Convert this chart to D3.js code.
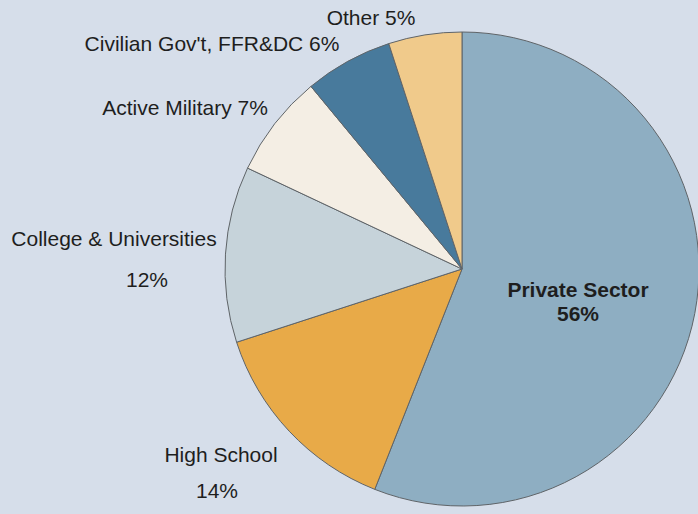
<!DOCTYPE html>
<html>
<head>
<meta charset="utf-8">
<script src="https://cdn.jsdelivr.net/npm/d3@7"></script>
<style>
  html, body { margin: 0; padding: 0; background: #d6deea; }
  svg { display: block; }
  text { font-family: "Liberation Sans", Arial, sans-serif; fill: #1e1e1e; }
</style>
</head>
<body>
<svg id="chart" width="698" height="514"></svg>
<script>
// Employment sectors, share in percent (clockwise from 12 o'clock)
const sectors = ["Private Sector", "High School", "College & Universities", "Active Military", "Civilian Gov't, FFR&DC", "Other"];
const shares = [56, 14, 12, 7, 6, 5];
const colors = ["#8eaec2", "#e8aa48", "#c6d3da", "#f4eee4", "#487a9c", "#f0ca8b"];

const W = 698, H = 514;
const cx = 462, cy = 269, R = 237;

const svg = d3.select("#chart");
svg.append("rect").attr("width", W).attr("height", H).attr("fill", "#d6deea");

const pie = d3.pie().sort(null).value(d => d.v);
const arc = d3.arc().innerRadius(0).outerRadius(R);
const data = sectors.map((s, i) => ({ name: s, v: shares[i], color: colors[i] }));
const arcs = pie(data);

const g = svg.append("g").attr("transform", `translate(${cx},${cy})`);
g.selectAll("path")
  .data(arcs)
  .join("path")
  .attr("d", arc)
  .attr("fill", d => d.data.color)
  .attr("stroke", "#5f6468")
  .attr("stroke-width", 1);

// Label layout: offsets (relative to the pie centre) for each slice's label lines
const labelLayout = {
  "Private Sector":          { lines: [[116, 28], [116, 52]], bold: true, split: true },
  "High School":             { lines: [[-241, 193], [-245, 229]], split: true },
  "College & Universities":  { lines: [[-348, -23], [-315, 18]], split: true },
  "Active Military":         { lines: [[-277, -154]] },
  "Civilian Gov't, FFR&DC":  { lines: [[-250, -218]] },
  "Other":                   { lines: [[-91, -244]] }
};

const labels = g.append("g");
arcs.forEach(a => {
  const lay = labelLayout[a.data.name];
  const pct = a.data.v + "%";
  const texts = lay.split ? [a.data.name, pct] : [a.data.name + " " + pct];
  texts.forEach((t, i) => {
    labels.append("text")
      .attr("x", lay.lines[i][0])
      .attr("y", lay.lines[i][1])
      .attr("text-anchor", "middle")
      .attr("font-size", 21)
      .attr("font-weight", lay.bold ? "bold" : "normal")
      .text(t);
  });
});
</script>
</body>
</html>
